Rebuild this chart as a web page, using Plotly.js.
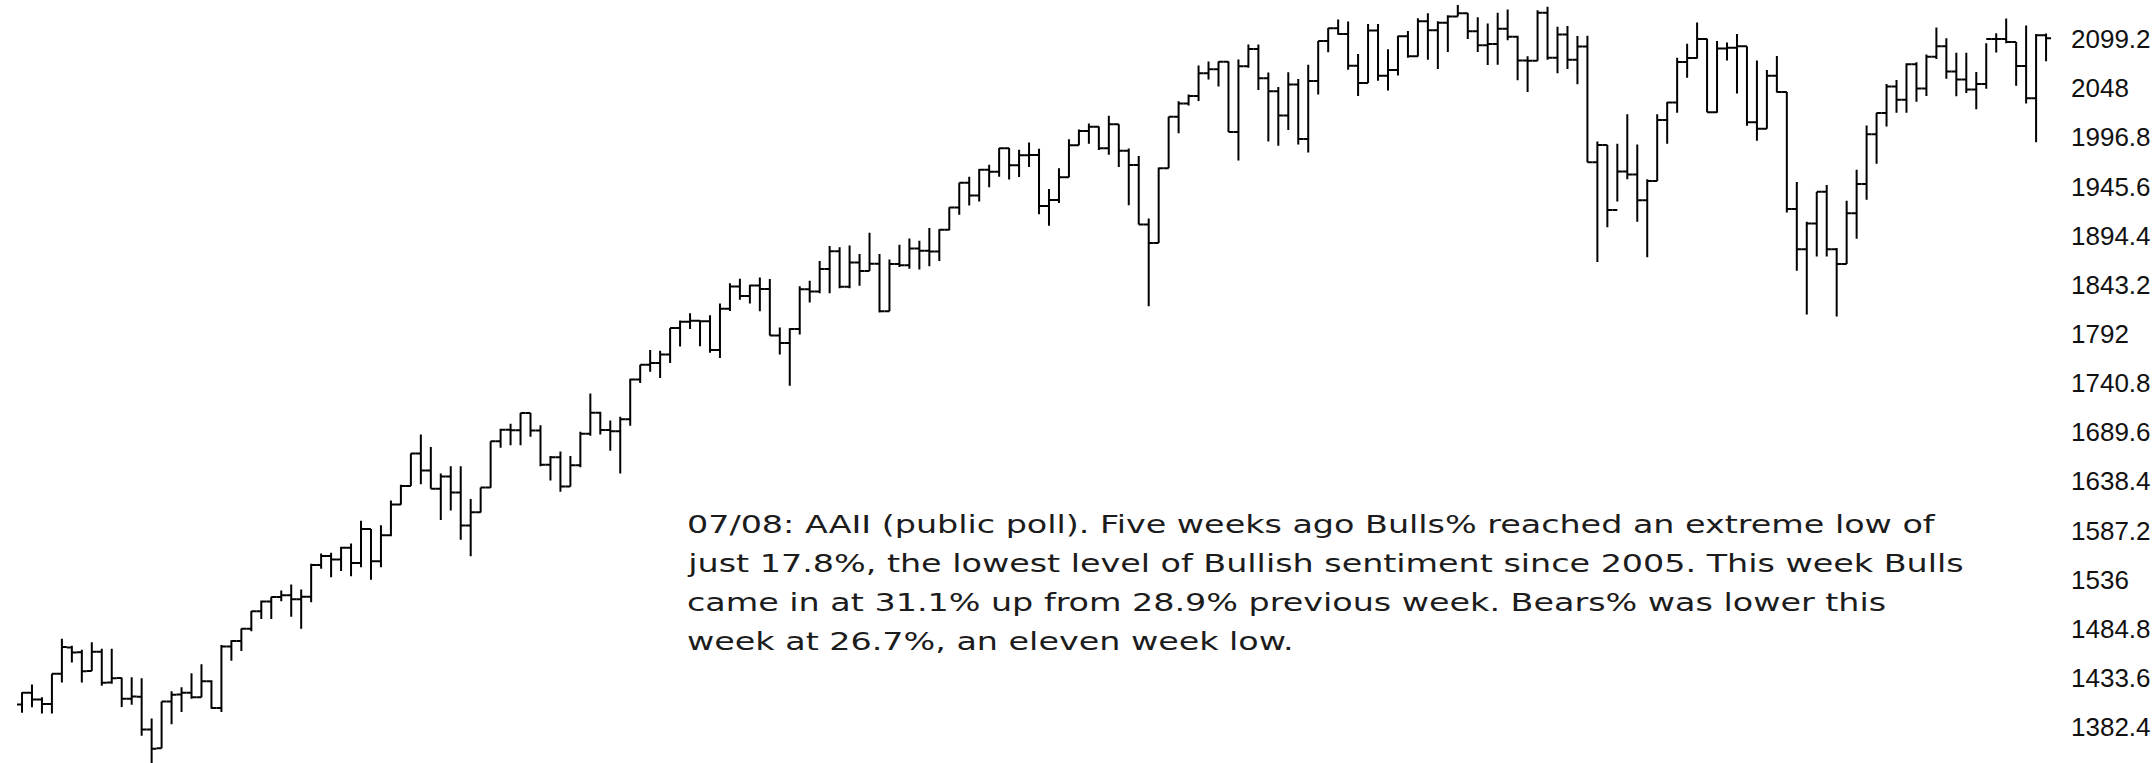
<!DOCTYPE html>
<html>
<head>
<meta charset="utf-8">
<script src="https://cdn.plot.ly/plotly-3.0.1.min.js"></script>
<style>
  html, body { margin: 0; padding: 0; background: #ffffff; }
  #chart { width: 2156px; height: 763px; }
  #chart .annotation-text {
    transform-box: fill-box;
    transform-origin: 0 50%;
    transform: scaleX(1.39);
  }
</style>
</head>
<body>
<div id="chart"></div>
<script>
// Week-ending dates (weekly bars)
const weeks = [
  "2012-08-17","2012-08-24","2012-08-31","2012-09-07","2012-09-14","2012-09-21","2012-09-28","2012-10-05","2012-10-12","2012-10-19",
  "2012-10-26","2012-11-02","2012-11-09","2012-11-16","2012-11-23","2012-11-30","2012-12-07","2012-12-14","2012-12-21","2012-12-28",
  "2013-01-04","2013-01-11","2013-01-18","2013-01-25","2013-02-01","2013-02-08","2013-02-15","2013-02-22","2013-03-01","2013-03-08",
  "2013-03-15","2013-03-22","2013-03-29","2013-04-05","2013-04-12","2013-04-19","2013-04-26","2013-05-03","2013-05-10","2013-05-17",
  "2013-05-24","2013-05-31","2013-06-07","2013-06-14","2013-06-21","2013-06-28","2013-07-05","2013-07-12","2013-07-19","2013-07-26",
  "2013-08-02","2013-08-09","2013-08-16","2013-08-23","2013-08-30","2013-09-06","2013-09-13","2013-09-20","2013-09-27","2013-10-04",
  "2013-10-11","2013-10-18","2013-10-25","2013-11-01","2013-11-08","2013-11-15","2013-11-22","2013-11-29","2013-12-06","2013-12-13",
  "2013-12-20","2013-12-27","2014-01-03","2014-01-10","2014-01-17","2014-01-24","2014-01-31","2014-02-07","2014-02-14","2014-02-21",
  "2014-02-28","2014-03-07","2014-03-14","2014-03-21","2014-03-28","2014-04-04","2014-04-11","2014-04-18","2014-04-25","2014-05-02",
  "2014-05-09","2014-05-16","2014-05-23","2014-05-30","2014-06-06","2014-06-13","2014-06-20","2014-06-27","2014-07-04","2014-07-11",
  "2014-07-18","2014-07-25","2014-08-01","2014-08-08","2014-08-15","2014-08-22","2014-08-29","2014-09-05","2014-09-12","2014-09-19",
  "2014-09-26","2014-10-03","2014-10-10","2014-10-17","2014-10-24","2014-10-31","2014-11-07","2014-11-14","2014-11-21","2014-11-28",
  "2014-12-05","2014-12-12","2014-12-19","2014-12-26","2015-01-02","2015-01-09","2015-01-16","2015-01-23","2015-01-30","2015-02-06",
  "2015-02-13","2015-02-20","2015-02-27","2015-03-06","2015-03-13","2015-03-20","2015-03-27","2015-04-03","2015-04-10","2015-04-17",
  "2015-04-24","2015-05-01","2015-05-08","2015-05-15","2015-05-22","2015-05-29","2015-06-05","2015-06-12","2015-06-19","2015-06-26",
  "2015-07-03","2015-07-10","2015-07-17","2015-07-24","2015-07-31","2015-08-07","2015-08-14","2015-08-21","2015-08-28","2015-09-04",
  "2015-09-11","2015-09-18","2015-09-25","2015-10-02","2015-10-09","2015-10-16","2015-10-23","2015-10-30","2015-11-06","2015-11-13",
  "2015-11-20","2015-11-27","2015-12-04","2015-12-11","2015-12-18","2015-12-25","2016-01-01","2016-01-08","2016-01-15","2016-01-22",
  "2016-01-29","2016-02-05","2016-02-12","2016-02-19","2016-02-26","2016-03-04","2016-03-11","2016-03-18","2016-03-25","2016-04-01",
  "2016-04-08","2016-04-15","2016-04-22","2016-04-29","2016-05-06","2016-05-13","2016-05-20","2016-05-27","2016-06-03","2016-06-10",
  "2016-06-17","2016-06-24","2016-07-01","2016-07-08"
];

const openVals = [
  1405.9,1418.1,1411.1,1406.5,1438.0,1465.4,1460.3,1440.9,1461.0,1428.8,
  1433.7,1412.0,1414.0,1380.0,1360.3,1409.2,1416.3,1418.1,1413.5,1430.2,
  1402.4,1466.5,1472.1,1485.0,1503.0,1513.2,1517.9,1519.8,1515.6,1518.2,
  1551.2,1560.7,1556.9,1569.2,1553.3,1588.9,1555.3,1582.3,1614.4,1633.7,
  1667.5,1649.6,1630.7,1643.4,1626.7,1592.4,1606.3,1631.9,1680.2,1692.1,
  1691.7,1709.7,1691.4,1655.8,1663.5,1633.0,1655.2,1688.0,1709.9,1691.8,
  1690.5,1703.2,1744.5,1759.8,1761.6,1770.6,1798.2,1804.8,1805.8,1805.1,
  1775.3,1818.3,1841.4,1831.4,1842.4,1838.7,1790.3,1782.6,1797.0,1838.6,
  1836.3,1859.5,1878.0,1841.1,1866.5,1857.6,1865.1,1815.7,1864.9,1863.4,
  1881.1,1878.5,1877.9,1900.5,1923.6,1949.4,1936.2,1962.9,1961.0,1985.4,
  1967.6,1978.2,1978.3,1925.2,1931.6,1955.1,1988.4,2003.4,2007.7,1985.5,
  2010.4,1982.9,1967.9,1906.1,1886.8,1964.6,2018.1,2031.9,2039.8,2063.5,
  2067.6,2075.4,2002.3,2070.7,2088.8,2058.2,2044.8,2019.4,2051.8,1995.0,
  2055.5,2097.0,2110.3,2104.5,2071.3,2053.4,2108.1,2061.0,2067.0,2102.1,
  2081.2,2117.7,2108.3,2116.1,2122.7,2126.1,2107.4,2092.8,2094.1,2110.0,
  2101.5,2076.8,2076.6,2126.6,2079.7,2103.8,2077.6,2091.5,1970.9,1988.9,
  1921.2,1961.1,1958.0,1931.3,1951.4,2014.9,2033.1,2075.2,2079.4,2099.2,
  2023.0,2089.2,2090.1,2091.7,2012.4,2005.6,2061.0,2043.9,1922.0,1880.3,
  1906.9,1940.2,1880.1,1864.8,1917.8,1948.1,2000.0,2022.2,2049.6,2035.9,
  2072.8,2047.6,2080.7,2091.6,2065.3,2057.1,2046.6,2052.3,2099.1,2099.1,
  2096.1,2071.2,2037.4,2103.0
];

const highVals = [
  1418.7,1426.7,1413.5,1437.9,1474.5,1467.1,1463.0,1470.9,1464.0,1464.0,
  1433.8,1434.3,1433.4,1391.4,1409.2,1419.7,1424.0,1438.6,1448.0,1431.1,
  1467.9,1472.8,1485.2,1503.3,1514.4,1518.3,1524.7,1530.9,1525.8,1552.5,
  1563.3,1564.0,1570.3,1573.7,1597.4,1588.9,1592.6,1618.5,1635.0,1667.5,
  1687.2,1674.2,1646.5,1654.2,1654.2,1620.1,1632.0,1680.2,1693.1,1698.4,
  1709.7,1709.7,1696.8,1664.9,1669.5,1664.8,1690.0,1729.9,1711.0,1701.9,
  1705.6,1745.3,1759.8,1775.2,1774.5,1798.2,1806.0,1813.6,1806.3,1811.5,
  1823.8,1844.9,1849.4,1843.2,1850.8,1849.2,1798.8,1798.0,1841.7,1847.5,
  1867.9,1883.6,1882.4,1884.0,1875.2,1897.3,1875.3,1869.6,1884.9,1891.3,
  1889.1,1902.2,1901.0,1924.0,1949.4,1955.6,1963.9,1968.2,1985.6,1985.6,
  1983.9,1991.4,1984.9,1942.9,1964.5,1994.8,2005.0,2011.2,2008.0,2019.3,
  2010.4,1985.2,1977.4,1912.3,1965.3,2018.2,2034.3,2041.3,2071.5,2075.8,
  2075.8,2075.8,2077.9,2093.6,2093.6,2064.4,2049.3,2064.6,2057.6,2072.4,
  2097.0,2110.6,2119.6,2117.5,2083.5,2114.9,2114.9,2088.5,2102.6,2107.6,
  2120.9,2126.0,2117.7,2123.9,2134.7,2126.2,2121.9,2115.4,2126.6,2129.9,
  2102.6,2081.3,2129.2,2132.8,2111.9,2112.7,2102.3,2102.7,1992.4,1988.9,
  1990.0,2020.9,1989.2,1953.0,2020.9,2033.5,2079.7,2094.3,2116.5,2099.4,
  2097.1,2095.6,2104.3,2091.7,2076.7,2067.0,2081.6,2043.9,1950.3,1908.9,
  1940.2,1947.2,1881.6,1930.7,1963.0,2009.1,2022.4,2052.4,2056.6,2074.0,
  2075.1,2083.0,2111.1,2099.9,2084.9,2084.9,2064.9,2094.7,2105.3,2120.6,
  2096.1,2113.3,2104.5,2105.0
];

const lowVals = [
  1397.3,1403.2,1396.6,1396.6,1429.0,1449.6,1429.0,1440.9,1425.5,1427.5,
  1403.3,1405.7,1373.5,1343.4,1360.3,1385.4,1398.2,1411.9,1413.5,1401.6,
  1398.1,1451.6,1461.8,1482.2,1495.0,1495.0,1513.6,1497.3,1485.0,1512.5,
  1547.4,1538.6,1545.0,1539.5,1548.9,1536.0,1549.0,1581.3,1614.0,1633.7,
  1635.5,1630.7,1598.2,1608.1,1577.7,1560.3,1606.0,1631.7,1673.3,1676.0,
  1676.0,1684.9,1654.1,1639.4,1627.5,1633.0,1653.1,1685.9,1687.1,1670.4,
  1646.5,1696.4,1740.8,1752.7,1746.2,1761.6,1779.0,1797.2,1779.1,1772.3,
  1767.0,1815.9,1827.7,1823.7,1815.5,1790.3,1770.5,1737.9,1791.5,1824.6,
  1834.4,1834.4,1839.6,1839.5,1842.1,1857.6,1814.4,1815.7,1861.7,1859.8,
  1859.0,1862.4,1868.0,1900.0,1916.0,1925.8,1930.0,1944.7,1955.6,1952.9,
  1955.5,1965.8,1916.6,1904.8,1928.3,1955.1,1988.4,1990.0,1983.5,1978.6,
  1966.0,1926.0,1906.1,1820.7,1886.8,1964.6,2001.0,2030.0,2034.5,2056.9,
  2049.6,2002.3,1972.6,2069.3,2046.0,1992.4,1988.1,2004.5,1989.2,1981.0,
  2041.4,2085.4,2103.6,2067.3,2039.7,2053.4,2055.8,2045.5,2061.2,2079.7,
  2081.0,2077.6,2067.9,2085.6,2122.7,2099.1,2085.7,2072.1,2072.5,2097.9,
  2056.3,2044.0,2076.6,2077.5,2063.5,2067.9,2052.1,1970.9,1867.0,1903.0,
  1930.0,1953.0,1908.8,1871.9,1951.4,1990.0,2022.3,2058.8,2079.0,2023.0,
  2022.3,2076.7,2042.4,2008.9,1993.3,2005.6,2043.6,1918.5,1857.8,1812.3,
  1872.7,1872.7,1810.1,1864.8,1891.0,1931.8,1969.2,2008.0,2022.5,2022.5,
  2033.8,2039.7,2078.3,2057.7,2039.5,2043.0,2025.9,2047.3,2085.1,2094.8,
  2050.4,2032.1,1991.7,2076.0
];

const closeVals = [
  1418.2,1411.1,1406.6,1437.9,1465.8,1460.2,1440.7,1460.9,1428.6,1433.2,
  1411.9,1414.2,1379.9,1359.9,1409.2,1416.2,1418.1,1413.6,1430.2,1402.4,
  1466.5,1472.1,1485.0,1503.0,1513.2,1517.9,1519.8,1515.6,1518.2,1551.2,
  1560.7,1556.9,1569.2,1553.3,1588.9,1555.3,1582.2,1614.4,1633.7,1667.5,
  1649.6,1630.7,1643.4,1626.7,1592.4,1606.3,1631.9,1680.2,1692.1,1691.7,
  1709.7,1691.4,1655.8,1663.5,1633.0,1655.2,1688.0,1709.9,1691.8,1690.5,
  1703.2,1744.5,1759.8,1761.6,1770.6,1798.2,1804.8,1805.8,1805.1,1775.3,
  1818.3,1841.4,1831.4,1842.4,1838.7,1790.3,1782.6,1797.0,1838.6,1836.3,
  1859.5,1878.0,1841.1,1866.5,1857.6,1865.1,1815.7,1864.9,1863.4,1881.1,
  1878.5,1877.9,1900.5,1923.6,1949.4,1936.2,1962.9,1961.0,1985.4,1967.6,
  1978.2,1978.3,1925.2,1931.6,1955.1,1988.4,2003.4,2007.7,1985.5,2010.4,
  1982.9,1967.9,1906.1,1886.8,1964.6,2018.1,2031.9,2039.8,2063.5,2067.6,
  2075.4,2002.3,2070.7,2088.8,2058.2,2044.8,2019.4,2051.8,1995.0,2055.5,
  2097.0,2110.3,2104.5,2071.3,2053.4,2108.1,2061.0,2067.0,2102.1,2081.2,
  2117.7,2108.3,2116.1,2122.7,2126.1,2107.4,2092.8,2094.1,2110.0,2101.5,
  2076.8,2076.6,2126.6,2079.7,2103.8,2077.6,2091.5,1970.9,1988.9,1921.2,
  1961.1,1958.0,1931.3,1951.4,2014.9,2033.1,2075.2,2079.4,2099.2,2023.0,
  2089.2,2090.1,2091.7,2012.4,2005.6,2061.0,2043.9,1922.0,1880.3,1906.9,
  1940.2,1880.1,1864.8,1917.8,1948.1,2000.0,2022.2,2049.6,2035.9,2072.8,
  2047.6,2080.7,2091.6,2065.3,2057.1,2046.6,2052.3,2099.1,2099.1,2096.1,
  2071.2,2037.4,2103.0,2100.0
];

// Price-axis labels (right side)
const tickValues = [2099.2,2048,1996.8,1945.6,1894.4,1843.2,1792,1740.8,1689.6,1638.4,1587.2,1536,1484.8,1433.6,1382.4];
const tickLabels = ["2099.2","2048","1996.8","1945.6","1894.4","1843.2","1792","1740.8","1689.6","1638.4","1587.2","1536","1484.8","1433.6","1382.4"];

// Commentary lines
const noteLines = [
  "07/08: AAII (public poll). Five weeks ago Bulls% reached an extreme low of",
  "just 17.8%, the lowest level of Bullish sentiment since 2005. This week Bulls",
  "came in at 31.1% up from 28.9% previous week. Bears% was lower this",
  "week at 26.7%, an eleven week low."
];

const W = 2156, H = 763;
const plotRight = 2070;
const noteX = 685;
const noteY0 = 525, noteDy = 39;

const trace = {
  type: "ohlc",
  x: weeks,
  open: openVals,
  high: highVals,
  low: lowVals,
  close: closeVals,
  increasing: { line: { color: "#000000", width: 2 } },
  decreasing: { line: { color: "#000000", width: 2 } },
  tickwidth: 0.5,
  hoverinfo: "skip",
  showlegend: false
};

const annotations = noteLines.map((t, i) => ({
  text: t,
  xref: "paper", yref: "paper",
  x: noteX / plotRight,
  y: 1 - (noteY0 + i * noteDy) / H,
  xanchor: "left", yanchor: "middle",
  showarrow: false,
  align: "left",
  font: { family: "DejaVu Sans", size: 24, color: "#1c1c1c" }
}));

const layout = {
  width: W, height: H,
  margin: { l: 0, r: W - plotRight, t: 0, b: 0, pad: 0 },
  paper_bgcolor: "#ffffff",
  plot_bgcolor: "#ffffff",
  showlegend: false,
  xaxis: {
    type: "category",
    visible: false,
    range: [-2.207, 205.4],
    rangeslider: { visible: false },
    fixedrange: true
  },
  yaxis: {
    side: "right",
    range: [1345.03, 2139.83],
    tickmode: "array",
    tickvals: tickValues,
    ticktext: tickLabels,
    showgrid: false,
    zeroline: false,
    showline: false,
    ticks: "",
    tickfont: { family: "Liberation Sans", size: 26, color: "#111111" },
    fixedrange: true
  },
  annotations: annotations
};

Plotly.newPlot("chart", [trace], layout, { staticPlot: true, displayModeBar: false });
</script>
</body>
</html>
